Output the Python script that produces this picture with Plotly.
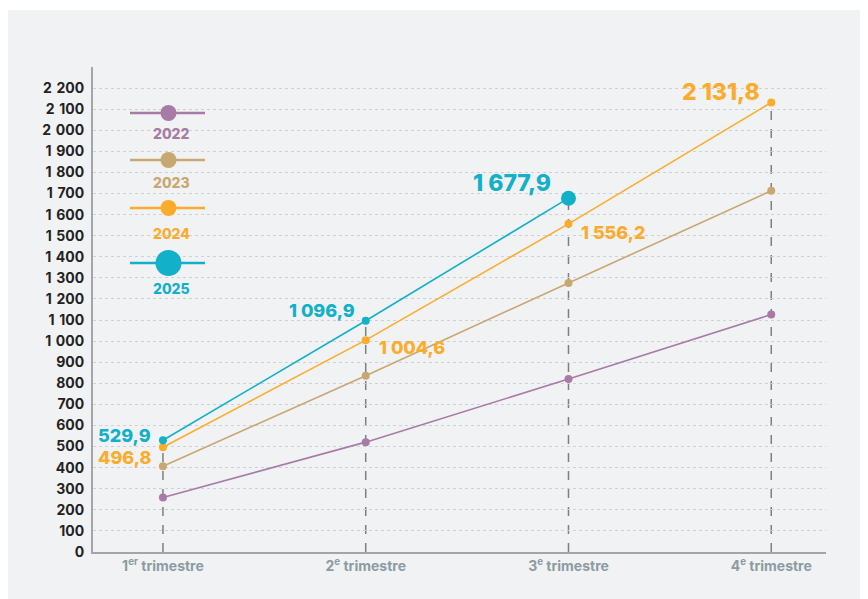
import plotly.graph_objects as go

# Data
quarters = ["1<sup>er</sup> trimestre", "2<sup>e</sup> trimestre",
            "3<sup>e</sup> trimestre", "4<sup>e</sup> trimestre"]
years = ["2022", "2023", "2024", "2025"]
v2022 = [258, 521, 820, 1126]
v2023 = [407, 836, 1276, 1713]
v2024 = [496.8, 1004.6, 1556.2, 2131.8]
v2025 = [529.9, 1096.9, 1677.9]
colors = ["#a77ba5", "#c8a870", "#fcac2c", "#12b0c9"]
y_ticks = list(range(0, 2300, 100))

series = [v2022, v2023, v2024, v2025]

# page has an 8px body margin, so figure coords = screen coords - 8
OFF = 8
W, H = 860, 591
L, R, T, B = 85, 42, 59, 47
PW, PH = W - L - R, H - T - B

def px(x):
    return (x - OFF - L) / PW

def py(y):
    return (H - B - (y - OFF)) / PH

def fmt(v, dec=1, sep=" "):
    s = f"{v:,.{dec}f}".replace(",", sep).replace(".", ",")
    return s

FONT = "Inter"
fig = go.Figure()

xs = list(range(len(quarters)))
for name, vals, col in zip(years, series, colors):
    sizes = [8] * len(vals)
    if name == "2025":
        sizes[-1] = 15
    fig.add_trace(go.Scatter(
        x=xs[:len(vals)], y=vals, mode="lines+markers", name=name,
        line=dict(color=col, width=1.6),
        marker=dict(color=col, size=sizes, opacity=1, line=dict(width=0)),
        showlegend=False
    ))

# dashed drop lines from the highest point of each quarter
for i in xs:
    top = max(s[i] for s in series if i < len(s))
    fig.add_shape(type="line", x0=i, x1=i, y0=0, y1=top, xref="x", yref="y",
                  line=dict(color="#7d7f82", width=1.5, dash="dash"), layer="below")

# value labels: (quarter, value, colour, size, anchor, xshift, yshift)
labels = [
    (0, v2025[0], colors[3], 18, "right", -10, 5),
    (0, v2024[0], colors[2], 18, "right", -10, -10),
    (1, v2025[1], colors[3], 18, "right", -9, 10),
    (1, v2024[1], colors[2], 18, "left", 11, -7),
    (2, v2025[2], colors[3], 23, "right", -15, 15),
    (2, v2024[2], colors[2], 18, "left", 11, -9),
    (3, v2024[3], colors[2], 23, "right", -9, 10),
]
for i, v, col, size, anchor, dx, dy in labels:
    fig.add_annotation(x=i, y=v, text=fmt(v), showarrow=False,
                       xanchor=anchor, yanchor="middle", xshift=dx, yshift=dy,
                       font=dict(family=FONT, size=size, color=col, weight=800))

# thin white strip above the grey panel
fig.add_shape(type="rect", xref="paper", yref="paper", x0=px(0), x1=px(900),
              y0=py(10), y1=py(0), fillcolor="white", line_width=0, layer="below")

# custom legend
leg_y = [113, 160, 208, 263]
leg_lab = [134, 182, 233, 288]
leg_d = [16, 16, 16, 26]
for name, col, ly, lt, d in zip(years, colors, leg_y, leg_lab, leg_d):
    fig.add_shape(type="line", xref="paper", yref="paper", x0=px(130), x1=px(205),
                  y0=py(ly), y1=py(ly), line=dict(color=col, width=2.5))
    fig.add_shape(type="circle", xref="paper", yref="paper",
                  xsizemode="pixel", ysizemode="pixel",
                  xanchor=px(168.5), yanchor=py(ly),
                  x0=-d / 2, x1=d / 2, y0=-d / 2, y1=d / 2,
                  fillcolor=col, line_width=0)
    fig.add_annotation(xref="paper", yref="paper", x=px(171), y=py(lt), text=name,
                       showarrow=False, xanchor="center", yanchor="middle",
                       font=dict(family=FONT, size=14, color=col, weight=800))

fig.update_xaxes(
    range=[-0.345, 3.27], tickvals=xs, ticktext=quarters,
    showgrid=False, zeroline=False, showline=True, linecolor="#a3a5a8", linewidth=2,
    tickfont=dict(family=FONT, size=14, color="#8c9ba1", weight=700), ticks=""
)
fig.update_yaxes(
    range=[0, 2300], tickvals=y_ticks,
    ticktext=[fmt(t, 0, "\u2004") for t in y_ticks],
    showgrid=True, gridcolor="#cfd1d4", griddash="dot", gridwidth=1,
    zeroline=False, showline=True, linecolor="#a3a5a8", linewidth=2,
    tickfont=dict(family=FONT, size=14, color="#222222", weight=700), ticks="",
    ticklabelstandoff=4
)
fig.update_layout(
    width=W, height=H, margin=dict(l=L, r=R, t=T, b=B),
    paper_bgcolor="#f1f2f4", plot_bgcolor="#f1f2f4",
    font=dict(family=FONT), showlegend=False
)
fig.write_html("out.html")
